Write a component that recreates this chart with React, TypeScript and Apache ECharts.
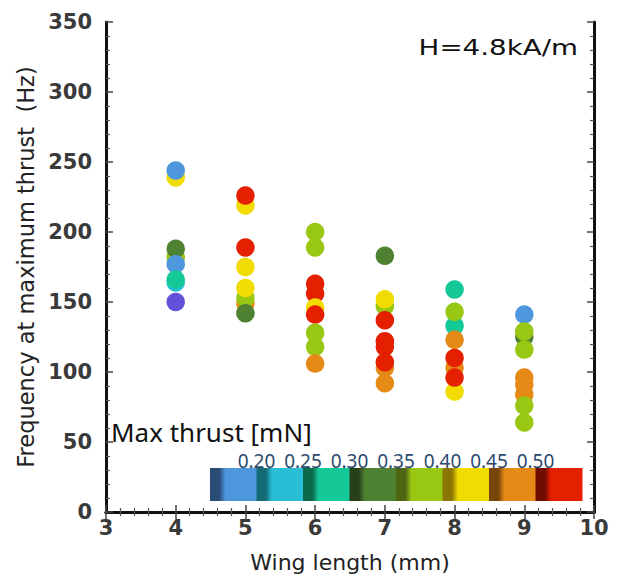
import React, { useEffect, useRef } from 'react';
import * as echarts from 'echarts';

// ---- data (drawing order matters for overlaps) ----
const wingLength = [
  4, 4, 4, 4, 4, 4, 4, 4,
  5, 5, 5, 5, 5, 5, 5, 5,
  6, 6, 6, 6, 6, 6, 6, 6, 6,
  7, 7, 7, 7, 7, 7, 7, 7, 7,
  8, 8, 8, 8, 8, 8, 8, 8,
  9, 9, 9, 9, 9, 9, 9, 9, 9,
];
const frequency = [
  239, 244, 182, 188, 177, 164, 166, 150,
  219, 226, 189, 175, 149, 153, 160, 142,
  200, 189, 163, 156, 146, 141, 128, 118, 106,
  183, 147, 152, 137, 103, 92, 107, 122, 118,
  159, 133, 143, 123, 103, 86, 110, 96,
  141, 125, 129, 116, 96, 91, 84, 76, 64,
];
const maxThrust = [
  0.45, 0.2, 0.4, 0.35, 0.2, 0.25, 0.3, 0.15,
  0.45, 0.55, 0.55, 0.45, 0.5, 0.4, 0.45, 0.35,
  0.4, 0.4, 0.55, 0.55, 0.45, 0.55, 0.4, 0.4, 0.5,
  0.35, 0.4, 0.45, 0.55, 0.5, 0.5, 0.55, 0.55, 0.55,
  0.3, 0.3, 0.4, 0.5, 0.5, 0.45, 0.55, 0.55,
  0.2, 0.35, 0.4, 0.4, 0.5, 0.5, 0.5, 0.4, 0.4,
];

const thrustLevels = [0.15, 0.2, 0.25, 0.3, 0.35, 0.4, 0.45, 0.5, 0.55];
const thrustColors = ['#6352d9', '#4f97dc', '#28bfd6', '#14c897', '#4f8132', '#99c814', '#f0dc00', '#e68a17', '#e52000'];
const barShades = ['#2a4d78', '#146a74', '#0b6a4c', '#28401a', '#4e6512', '#8c7602', '#774507', '#700c02'];
const barLabels = ['0.20', '0.25', '0.30', '0.35', '0.40', '0.45', '0.50'];

const xMin = 3, xMax = 10, xStep = 1;
const yMin = 0, yMax = 350, yStep = 50;

const colorFor = (t: number) => {
  let best = 0;
  thrustLevels.forEach((v, i) => {
    if (Math.abs(v - t) < Math.abs(thrustLevels[best] - t)) best = i;
  });
  return thrustColors[best];
};

export default function App() {
  const ref = useRef<HTMLDivElement>(null);
  useEffect(() => {
    if (!ref.current) return;
    const chart = echarts.init(ref.current, undefined, { renderer: 'svg' });

    const data = wingLength.map((x, i) => ({
      value: [x, frequency[i]],
      itemStyle: { color: colorFor(maxThrust[i]) },
    }));

    const axisLine = { show: true, lineStyle: { color: '#111', width: 3 } };
    const axisTick = { show: true, inside: true, length: 7, lineStyle: { color: '#444', width: 1.5 } };
    const minorTickX = { show: true, splitNumber: 5, length: 4, lineStyle: { color: '#555', width: 1.2 } };
    const minorTickY = { show: true, splitNumber: 5, length: 4, lineStyle: { color: '#555', width: 1.2 } };
    const tickFont = { fontSize: 21, fontWeight: 'bold' as const, color: '#3a3a3a', fontFamily: 'DejaVu Sans' };

    // colour bar (legend decoration)
    const barLeft = 210, barRight = 582, barTop = 468, barH = 33;
    const segW = (barRight - barLeft) / barShades.length;
    const graphics: any[] = [];
    barShades.forEach((shade, i) => {
      const col = thrustColors[i + 1];
      graphics.push({
        type: 'rect',
        silent: true,
        shape: { x: barLeft + i * segW, y: barTop, width: segW + 0.5, height: barH },
        style: {
          fill: new echarts.graphic.LinearGradient(0, 0, 1, 0, [
            { offset: 0, color: shade },
            { offset: 0.2, color: shade },
            { offset: 0.33, color: col },
            { offset: 1, color: col },
          ]),
        },
      });
    });
    barLabels.forEach((lab, i) => {
      graphics.push({
        type: 'text',
        silent: true,
        x: barLeft + (i + 1) * segW,
        y: 461,
        style: {
          text: lab,
          fontSize: 19,
          lineHeight: 15,
          fontFamily: 'Noto Sans',
          fill: '#2c4a6e',
          align: 'center',
          verticalAlign: 'middle',
        },
      });
    });
    graphics.push({
      type: 'text',
      silent: true,
      x: 111,
      y: 432,
      style: { text: 'Max thrust [mN]', fontSize: 26, lineHeight: 20, fontFamily: 'Noto Sans', fill: '#111', align: 'left', verticalAlign: 'middle' },
    });
    graphics.push({
      type: 'text',
      silent: true,
      x: 578,
      y: 48,
      scaleX: 1.32,
      style: { text: 'H=4.8kA/m', fontSize: 21, fontFamily: 'DejaVu Sans', fill: '#111', align: 'right', verticalAlign: 'middle' },
    });

    chart.setOption({
      animation: false,
      backgroundColor: '#fff',
      grid: { left: 106, top: 22, right: 25, bottom: 66 },
      xAxis: [
        {
          type: 'value', min: xMin, max: xMax, interval: xStep,
          axisLine, axisTick, minorTick: minorTickX, splitLine: { show: false },
          axisLabel: { ...tickFont, margin: 5 },
          name: 'Wing length (mm)', nameLocation: 'middle', nameGap: 39,
          nameTextStyle: { fontSize: 22, color: '#222', fontFamily: 'DejaVu Sans' },
        },
        {
          type: 'value', position: 'top', min: xMin, max: xMax, interval: xStep,
          axisLine, axisTick, minorTick: minorTickX, splitLine: { show: false },
          axisLabel: { show: false },
        },
      ],
      yAxis: [
        {
          type: 'value', min: yMin, max: yMax, interval: yStep,
          axisLine, axisTick, minorTick: minorTickY, splitLine: { show: false },
          axisLabel: { ...tickFont, margin: 14, padding: [0, 0, 10, 0] },
          name: 'Frequency at maximum thrust  (Hz)', nameLocation: 'middle', nameGap: 68,
          nameTextStyle: { fontSize: 22.5, color: '#222', fontFamily: 'DejaVu Sans' },
        },
        {
          type: 'value', position: 'right', min: yMin, max: yMax, interval: yStep,
          axisLine, axisTick, minorTick: minorTickY, splitLine: { show: false },
          axisLabel: { show: false },
        },
      ],
      series: [
        {
          type: 'scatter',
          symbolSize: 18.5,
          data,
          itemStyle: { opacity: 1 },
        },
      ],
      graphic: graphics,
    });

    return () => chart.dispose();
  }, []);

  return <div ref={ref} style={{ position: 'absolute', left: 0, top: 0, width: 619, height: 578 }} />;
}
